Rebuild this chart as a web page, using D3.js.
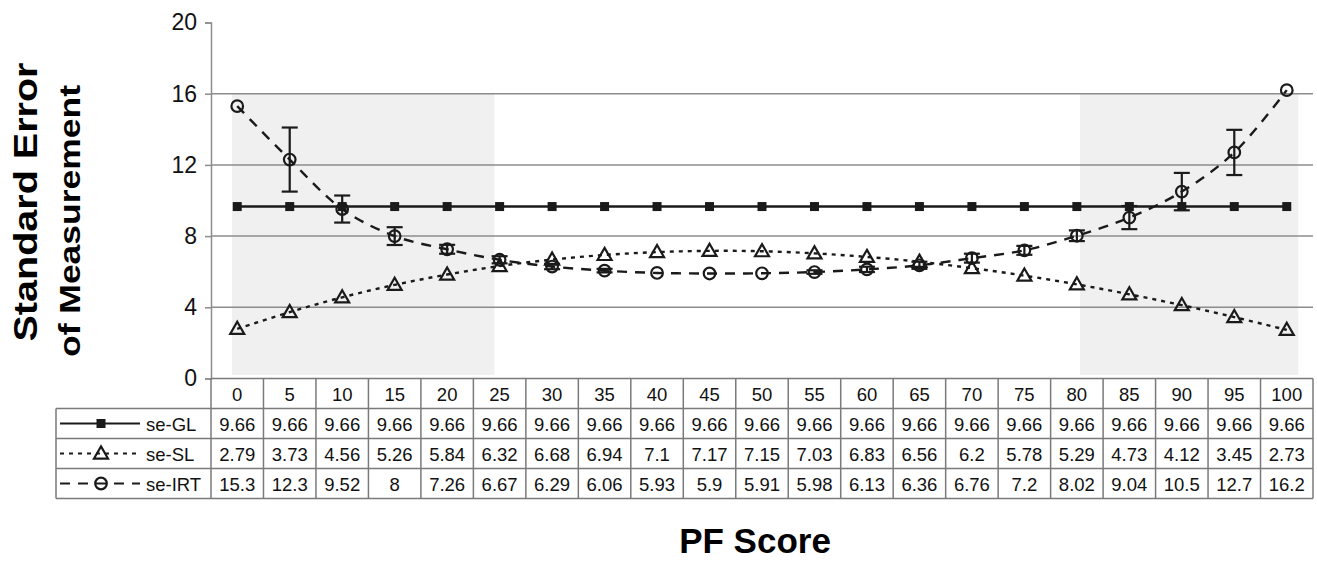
<!DOCTYPE html>
<html>
<head>
<meta charset="utf-8">
<script src="https://cdn.jsdelivr.net/npm/d3@7"></script>
<style>
  body { margin: 0; background: #fff; }
  svg { display: block; font-family: "Liberation Sans", Arial, sans-serif; }
</style>
</head>
<body>
<div id="chart"></div>
<script>
// data
var scores = [0, 5, 10, 15, 20, 25, 30, 35, 40, 45, 50, 55, 60, 65, 70, 75, 80, 85, 90, 95, 100]
var seGL = [9.66, 9.66, 9.66, 9.66, 9.66, 9.66, 9.66, 9.66, 9.66, 9.66, 9.66, 9.66, 9.66, 9.66, 9.66, 9.66, 9.66, 9.66, 9.66, 9.66, 9.66]
var seSL = [2.79, 3.73, 4.56, 5.26, 5.84, 6.32, 6.68, 6.94, 7.1, 7.17, 7.15, 7.03, 6.83, 6.56, 6.2, 5.78, 5.29, 4.73, 4.12, 3.45, 2.73]
var seIRT = [15.3, 12.3, 9.52, 8, 7.26, 6.67, 6.29, 6.06, 5.93, 5.9, 5.91, 5.98, 6.13, 6.36, 6.76, 7.2, 8.02, 9.04, 10.5, 12.7, 16.2]
// half-width of the error bars on se-IRT
var irtErr = [0, 1.8, 0.76, 0.5, 0.25, 0.2, 0.15, 0.1, 0, 0, 0, 0.1, 0.15, 0.2, 0.25, 0.25, 0.3, 0.65, 1.05, 1.27, 0]
var yTicks = [0, 4, 8, 12, 16, 20]
// shaded score ranges
var shadeBands = [[-0.5, 24.5], [80.3, 101.1]]

// size
var width = 1317,
		height = 563,
		plotLeft = 211,
		plotRight = 1313,
		plotTop = 22.5,
		plotBottom = 378.5,
		rowHeight = 30,
		legendLeft = 56,
		ink = '#1a1a1a',
		gridColor = '#8c8c8c'

var svg = d3.select('#chart')
	.append('svg')
		.attr('width', width)
		.attr('height', height)

// scales
var x = d3.scaleBand()
	.domain(scores)
	.range([plotLeft, plotRight])
	.padding(0)

var bw = x.bandwidth()
var cx = function(s) { return x(s) + bw / 2 }

var xVal = d3.scaleLinear()
	.domain([0, 100])
	.range([cx(0), cx(100)])

var y = d3.scaleLinear()
	.domain([0, 20])
	.range([plotBottom, plotTop])

// shaded areas
svg.selectAll('.shade')
		.data(shadeBands).enter()
	.append('rect')
		.attr('class', 'shade')
		.attr('x', function(d) { return xVal(d[0]) })
		.attr('width', function(d) { return xVal(d[1]) - xVal(d[0]) })
		.attr('y', y(16))
		.attr('height', y(0.2) - y(16))
		.attr('fill', '#f0f0f0')

// gridlines
svg.selectAll('.grid')
		.data(yTicks.filter(function(t) { return t > 0 && t < 20 })).enter()
	.append('line')
		.attr('x1', plotLeft)
		.attr('x2', plotRight)
		.attr('y1', function(d) { return y(d) })
		.attr('y2', function(d) { return y(d) })
		.attr('stroke', gridColor)
		.attr('stroke-width', 1.5)

// y axis
var yAxis = d3.axisLeft(y)
	.tickValues(yTicks)
	.tickSize(6)
	.tickPadding(8)

var yg = svg.append('g')
	.attr('transform', 'translate(' + plotLeft + ',0)')
	.call(yAxis)

yg.select('.domain').attr('stroke', gridColor).attr('stroke-width', 1.5)
yg.selectAll('.tick line').attr('stroke', gridColor).attr('stroke-width', 1.5)
yg.selectAll('.tick text')
	.attr('font-size', 23)
	.attr('fill', '#111')
	.attr('font-family', '"Liberation Sans", Arial, sans-serif')

// lines
var series = [
	{ name: 'se-GL', values: seGL, dash: null, curve: d3.curveLinear },
	{ name: 'se-SL', values: seSL, dash: '4,5', curve: d3.curveCatmullRom.alpha(0.5) },
	{ name: 'se-IRT', values: seIRT, dash: '10,8', curve: d3.curveCatmullRom.alpha(0.5) }
]

series.forEach(function(s) {
	var line = d3.line()
		.x(function(d, i) { return cx(scores[i]) })
		.y(function(d) { return y(d) })
		.curve(s.curve)

	svg.append('path')
		.datum(s.values)
		.attr('d', line)
		.attr('fill', 'none')
		.attr('stroke', ink)
		.attr('stroke-width', 2.4)
		.attr('stroke-dasharray', s.dash)
})

// markers
var drawMarker = function(g, name, px, py) {
	if (name === 'se-GL') {
		g.append('rect')
			.attr('x', px - 4.5)
			.attr('y', py - 4.5)
			.attr('width', 9)
			.attr('height', 9)
			.attr('fill', ink)
	} else if (name === 'se-SL') {
		g.append('path')
			.attr('d', d3.symbol().type(d3.symbolTriangle).size(85)())
			.attr('transform', 'translate(' + px + ',' + (py + 1) + ')')
			.attr('fill', 'none')
			.attr('stroke', ink)
			.attr('stroke-width', 2.2)
	} else {
		g.append('circle')
			.attr('cx', px)
			.attr('cy', py)
			.attr('r', 5.8)
			.attr('fill', 'none')
			.attr('stroke', ink)
			.attr('stroke-width', 2.2)
	}
}

var markers = svg.append('g')
series.forEach(function(s) {
	s.values.forEach(function(v, i) {
		drawMarker(markers, s.name, cx(scores[i]), y(v))
	})
})

// error bars on se-IRT
var errG = svg.append('g')
	.attr('stroke', ink)
	.attr('stroke-width', 2.2)

seIRT.forEach(function(v, i) {
	var e = irtErr[i]
	if (!e) return
	var px = cx(scores[i])
	errG.append('line')
		.attr('x1', px).attr('x2', px)
		.attr('y1', y(v + e)).attr('y2', y(v - e))
	errG.append('line')
		.attr('x1', px - 8).attr('x2', px + 8)
		.attr('y1', y(v + e)).attr('y2', y(v + e))
	errG.append('line')
		.attr('x1', px - 8).attr('x2', px + 8)
		.attr('y1', y(v - e)).attr('y2', y(v - e))
})

// data table
var table = svg.append('g')
var tableBottom = plotBottom + rowHeight * 4
var borderColor = '#7a7a7a'

// horizontal rules
table.append('line')
	.attr('x1', plotLeft).attr('x2', plotRight)
	.attr('y1', plotBottom).attr('y2', plotBottom)
	.attr('stroke', borderColor).attr('stroke-width', 1.5)

d3.range(1, 5).forEach(function(r) {
	table.append('line')
		.attr('x1', legendLeft).attr('x2', plotRight)
		.attr('y1', plotBottom + r * rowHeight).attr('y2', plotBottom + r * rowHeight)
		.attr('stroke', borderColor).attr('stroke-width', 1.5)
})

// vertical rules
scores.forEach(function(s) {
	table.append('line')
		.attr('x1', x(s)).attr('x2', x(s))
		.attr('y1', plotBottom).attr('y2', tableBottom)
		.attr('stroke', borderColor).attr('stroke-width', 1.5)
})
table.append('line')
	.attr('x1', plotRight).attr('x2', plotRight)
	.attr('y1', plotBottom).attr('y2', tableBottom)
	.attr('stroke', borderColor).attr('stroke-width', 1.5)
table.append('line')
	.attr('x1', legendLeft).attr('x2', legendLeft)
	.attr('y1', plotBottom + rowHeight).attr('y2', tableBottom)
	.attr('stroke', borderColor).attr('stroke-width', 1.5)

// header row: score labels
table.selectAll('.head')
		.data(scores).enter()
	.append('text')
		.attr('x', function(d) { return cx(d) })
		.attr('y', plotBottom + rowHeight / 2 + 7)
		.attr('text-anchor', 'middle')
		.attr('font-size', 18.5)
		.attr('fill', '#111')
		.text(function(d) { return d })

// value rows
series.forEach(function(s, r) {
	var rowY = plotBottom + rowHeight * (r + 1)
	table.selectAll('.cell' + r)
			.data(s.values).enter()
		.append('text')
			.attr('x', function(d, i) { return cx(scores[i]) })
			.attr('y', rowY + rowHeight / 2 + 7)
			.attr('text-anchor', 'middle')
			.attr('font-size', 18.5)
			.attr('fill', '#111')
			.text(function(d) { return String(d) })

	// legend key
	var ky = rowY + rowHeight / 2
	table.append('line')
		.attr('x1', 60).attr('x2', 140)
		.attr('y1', ky).attr('y2', ky)
		.attr('stroke', ink)
		.attr('stroke-width', 2.2)
		.attr('stroke-dasharray', s.dash)
	drawMarker(table, s.name, 101, ky)

	table.append('text')
		.attr('x', 146)
		.attr('y', ky + 7)
		.attr('font-size', 18.5)
		.attr('fill', '#111')
		.text(s.name)
})

// axis titles
svg.append('text')
	.attr('transform', 'translate(37,202) rotate(-90)')
	.attr('text-anchor', 'middle')
	.attr('font-size', 34)
	.attr('font-weight', 'bold')
	.attr('fill', '#000')
	.attr('textLength', 279)
	.attr('lengthAdjust', 'spacingAndGlyphs')
	.text('Standard Error')

svg.append('text')
	.attr('transform', 'translate(80,221) rotate(-90)')
	.attr('text-anchor', 'middle')
	.attr('font-size', 30)
	.attr('font-weight', 'bold')
	.attr('fill', '#000')
	.attr('textLength', 272)
	.attr('lengthAdjust', 'spacingAndGlyphs')
	.text('of Measurement')

svg.append('text')
	.attr('x', 755)
	.attr('y', 553)
	.attr('text-anchor', 'middle')
	.attr('font-size', 35)
	.attr('font-weight', 'bold')
	.attr('fill', '#000')
	.text('PF Score')
</script>
</body>
</html>
